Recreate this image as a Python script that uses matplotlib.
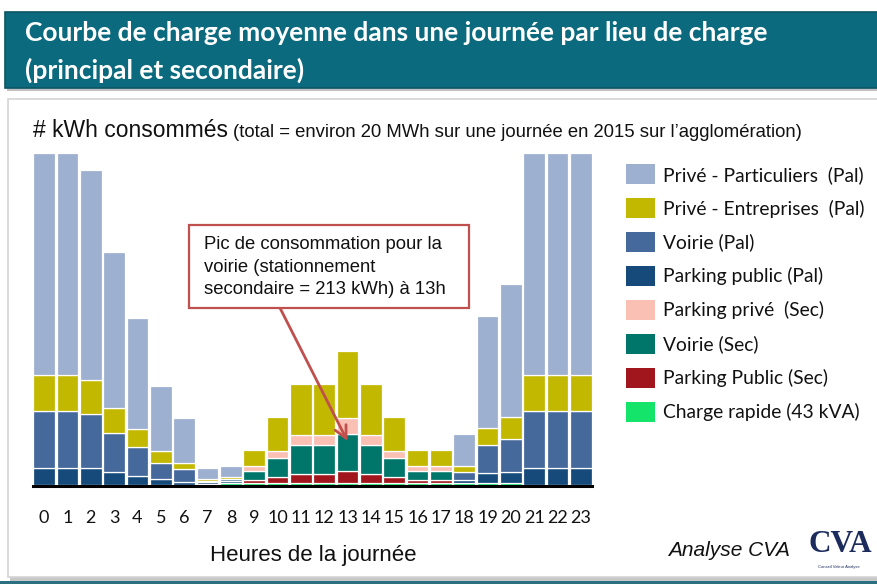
import matplotlib
matplotlib.use('Agg')
import matplotlib.pyplot as plt
import numpy as np
from matplotlib.patches import Rectangle, Patch

W, H = 877, 584

# ---------------- data (kWh) ----------------
hours = list(range(24))
hour_labels = [str(h) for h in hours]

series_labels = [
    "Privé - Particuliers  (Pal)",
    "Privé - Entreprises  (Pal)",
    "Voirie (Pal)",
    "Parking public (Pal)",
    "Parking privé  (Sec)",
    "Voirie (Sec)",
    "Parking Public (Sec)",
    "Charge rapide (43 kVA)",
]

prive_particuliers = [1266, 1266, 1196, 891, 634, 373, 255, 63, 65, 0, 0, 0,
                      0, 0, 0, 0, 0, 0, 183, 640, 763, 1266, 1266, 1266]
prive_entreprises = [206, 206, 198, 144, 103, 65, 34, 13, 11, 87, 192, 289,
                     289, 381, 289, 192, 87, 87, 34, 99, 127, 206, 206, 206]
voirie_pal = [324, 324, 305, 219, 162, 91, 74, 8, 13, 0, 0, 0,
              0, 0, 0, 0, 0, 0, 47, 160, 184, 324, 324, 324]
parking_public_pal = [99, 99, 99, 76, 53, 36, 19, 10, 8, 0, 0, 0,
                      0, 0, 0, 0, 0, 0, 15, 53, 63, 99, 99, 99]
parking_prive_sec = [0, 0, 0, 0, 0, 0, 0, 0, 0, 29, 38, 61,
                     61, 91, 61, 38, 29, 29, 0, 0, 0, 0, 0, 0]
voirie_sec = [0, 0, 0, 0, 0, 0, 0, 0, 0, 51, 110, 162,
              162, 213, 162, 110, 51, 51, 0, 0, 0, 0, 0, 0]
parking_public_sec = [0, 0, 0, 0, 0, 0, 0, 0, 0, 17, 33, 51,
                      51, 67, 51, 33, 17, 17, 0, 0, 0, 0, 0, 0]
charge_rapide = [6, 6, 6, 6, 6, 6, 6, 10, 19, 19, 19, 19,
                 19, 19, 19, 19, 19, 19, 19, 19, 19, 6, 6, 6]

series_values = [prive_particuliers, prive_entreprises, voirie_pal, parking_public_pal,
                 parking_prive_sec, voirie_sec, parking_public_sec, charge_rapide]
series_colors = ["#9DB0CF", "#C3B800", "#46699C", "#154A7B",
                 "#FBC0B4", "#00766A", "#A0161C", "#14E46A"]

# ---------------- figure ----------------
fig = plt.figure(figsize=(W / 100, H / 100), dpi=100)
fig.patch.set_facecolor('white')

def fx(x):
    return x / W

def fy(y):
    return 1 - y / H

# content panel with shadow
fig.add_artist(Rectangle((fx(10), fy(582)), fx(870), (580 - 99) / H, transform=fig.transFigure,
                         facecolor='#C8C8C8', edgecolor='none', zorder=0))
fig.add_artist(Rectangle((fx(8), fy(577)), fx(872), (577 - 99) / H, transform=fig.transFigure,
                         facecolor='white', edgecolor='#D4D4D4', linewidth=1.2, zorder=0.5))
fig.add_artist(Rectangle((0, 0), 1, 3 / H, transform=fig.transFigure,
                         facecolor='#2B6F80', edgecolor='none', zorder=1))

# title banner
fig.add_artist(Rectangle((fx(7), fy(91)), 1, (91 - 14) / H, transform=fig.transFigure,
                         facecolor='#9A9A9A', edgecolor='none', zorder=1, alpha=0.6))
fig.add_artist(Rectangle((fx(5), fy(88)), 1, (88 - 12) / H, transform=fig.transFigure,
                         facecolor='#0B6A7D', edgecolor='#0A5564', linewidth=1.2, zorder=2))
fig.text(fx(25), fy(33), "Courbe de charge moyenne dans une journée par lieu de charge",
         family='Lato', weight='bold', color='white', fontsize=19, va='center', ha='left', zorder=3)
fig.text(fx(25), fy(70), "(principal et secondaire)",
         family='Lato', weight='bold', color='white', fontsize=19, va='center', ha='left', zorder=3)

# subtitle
fig.text(fx(33), fy(137), "# kWh consommés", family='Liberation Sans', fontsize=16.5,
         color='#111111', ha='left', va='baseline', zorder=3)
fig.text(fx(233), fy(137), "(total = environ 20 MWh sur une journée en 2015 sur l’agglomération)",
         family='Liberation Sans', fontsize=13.3, color='#111111', ha='left', va='baseline',
         zorder=3)

# ---------------- axes ----------------
kwh_per_px = 213 / 37.3
ymax = 2000
ax = fig.add_axes([fx(32.5), fy(486), fx(560), ymax / kwh_per_px / H])
ax.set_facecolor('none')
ax.set_zorder(2)

stack_order = list(range(len(series_values)))[::-1]  # bottom: charge rapide
bottom = np.zeros(len(hours))
x = np.array(hours)
for i in stack_order:
    vals = np.array(series_values[i], dtype=float)
    m = vals > 0
    ax.bar(x[m], vals[m], bottom=bottom[m], width=0.94, color=series_colors[i],
           edgecolor='white', linewidth=0.9, zorder=2)
    bottom += vals

ax.set_xlim(-0.5, 23.5)
ax.set_ylim(0, ymax)
ax.set_xticks(hours)
ax.set_xticklabels(hour_labels, family='Lato', fontsize=13, color='#111111')
ax.tick_params(axis='x', length=0, pad=17)
ax.set_yticks([])
for s in ['top', 'right', 'left']:
    ax.spines[s].set_visible(False)
ax.spines['bottom'].set_linewidth(2.2)
ax.spines['bottom'].set_color('black')
ax.spines['bottom'].set_zorder(5)

# x label
fig.text(fx(313), fy(555), "Heures de la journée", family='Liberation Sans', fontsize=16,
         color='#111111', ha='center', va='center', zorder=3)

# annotation
peak_h = 13
tip_y = parking_public_sec[peak_h] + charge_rapide[peak_h] + voirie_sec[peak_h] * 0.8
ax.annotate("", xy=(peak_h, tip_y), xycoords='data',
            xytext=(fx(280), fy(308)), textcoords='figure fraction',
            arrowprops=dict(arrowstyle='->', color='#C0504D', lw=2.0,
                            mutation_scale=22, shrinkA=0, shrinkB=0), zorder=6)
fig.text(fx(204), fy(267),
         "Pic de consommation pour la\nvoirie (stationnement\nsecondaire = 213 kWh) à 13h",
         family='Liberation Sans', fontsize=13.3, color='#111111', ha='left', va='center',
         linespacing=1.45, zorder=7)
fig.add_artist(Rectangle((fx(189), fy(308)), fx(280), (308 - 225) / H, transform=fig.transFigure,
                         facecolor='white', edgecolor='#C0504D', linewidth=1.6, zorder=6))

# legend
handles = [Patch(facecolor=c, edgecolor='none') for c in series_colors]
fig.legend(handles, series_labels, loc='upper left', bbox_to_anchor=(fx(626), fy(164)),
           bbox_transform=fig.transFigure, frameon=False,
           prop={'family': 'Lato', 'size': 13.9},
           handlelength=1.5, handleheight=1.25, handletextpad=0.41,
           labelspacing=0.7, borderpad=0, borderaxespad=0, labelcolor='#111111')

# footer
fig.text(fx(790), fy(550), "Analyse CVA", family='Liberation Sans', style='italic',
         fontsize=15, color='#111111', ha='right', va='center', zorder=3)
fig.text(fx(808), fy(544), "CVA", family='Liberation Serif', weight='bold', fontsize=22.5,
         color='#1B2B5C', ha='left', va='center', zorder=3)
fig.text(fx(818), fy(567), "Conseil Valeur Analyse", family='Liberation Sans',
         fontsize=3, color='#1B2B5C', ha='left', va='center', zorder=3)

fig.savefig('out.png', dpi=100, facecolor='white')
